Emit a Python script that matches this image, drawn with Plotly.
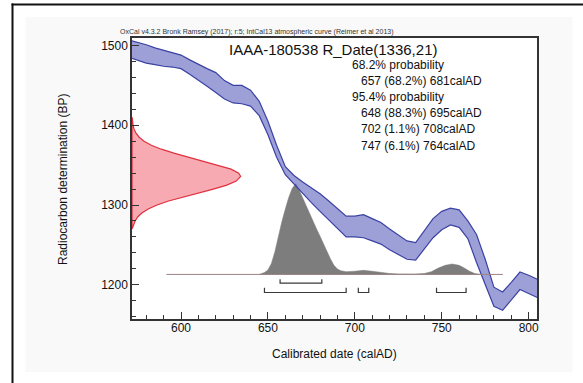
import plotly.graph_objects as go

# ---------------- data ----------------
# IntCal13 calibration band (calAD, upper BP edge, lower BP edge)
curve_year = [570, 575, 580, 585, 590, 595, 600, 605, 610, 615, 620, 625, 630, 635, 640,
              645, 650, 655, 660, 665, 670, 675, 680, 685, 690, 695, 700, 705, 710, 715,
              720, 725, 730, 735, 740, 745, 750, 755, 760, 765, 770, 775, 780, 785, 790,
              795, 800, 806]
curve_upper = [1507, 1504, 1501, 1497, 1494, 1491, 1488, 1482, 1476, 1471, 1466, 1456, 1450, 1450, 1444,
               1430, 1405, 1375, 1348, 1337, 1329, 1322, 1314, 1305, 1295, 1286, 1286, 1288, 1283, 1278,
               1270, 1262, 1255, 1253, 1268, 1283, 1292, 1296, 1294, 1280, 1263, 1232, 1197, 1191, 1203,
               1216, 1212, 1206]
curve_lower = [1485, 1481, 1478, 1476, 1474, 1473, 1471, 1464, 1457, 1449, 1441, 1433, 1428, 1427, 1424,
               1412, 1388, 1360, 1338, 1326, 1314, 1303, 1292, 1281, 1270, 1260, 1260, 1259, 1255, 1251,
               1244, 1238, 1232, 1231, 1245, 1259, 1269, 1275, 1272, 1258, 1228, 1200, 1173, 1168, 1181,
               1194, 1189, 1183]

# Radiocarbon date R_Date(1336,21): BP levels and relative probability
rdate_bp = [1410, 1405, 1400, 1395, 1390, 1385, 1380, 1375, 1370, 1365, 1360, 1355, 1350, 1345, 1340,
            1336, 1330, 1325, 1320, 1315, 1310, 1305, 1300, 1295, 1290, 1285, 1280, 1275, 1270]
rdate_rel = [0.002, 0.0045, 0.0096, 0.019, 0.037, 0.066, 0.111, 0.178, 0.270, 0.386, 0.520, 0.664, 0.801, 0.912, 0.982,
             1.0, 0.960, 0.872, 0.748, 0.607, 0.465, 0.337, 0.230, 0.149, 0.091, 0.052, 0.029, 0.015, 0.007]

# Calibrated date distribution (calAD, relative probability)
cal_year = [645, 648, 650, 652, 654, 656, 658, 660, 662, 664, 666, 668, 670, 672, 674, 676, 678, 680,
            682, 684, 686, 688, 690, 692, 695, 700, 705, 710, 715, 720, 725, 730, 735, 740, 744, 748,
            752, 756, 760, 763, 766, 769, 772]
cal_rel = [0.0, 0.02, 0.05, 0.12, 0.25, 0.42, 0.58, 0.72, 0.85, 0.95, 1.0, 0.93, 0.84, 0.76, 0.68, 0.59, 0.50, 0.42,
           0.33, 0.25, 0.17, 0.10, 0.06, 0.04, 0.03, 0.035, 0.045, 0.035, 0.02, 0.01, 0.005, 0.003, 0.004, 0.01, 0.03, 0.07,
           0.10, 0.115, 0.10, 0.07, 0.035, 0.01, 0.0]
cal_line_start, cal_line_end = 591.6, 785.2

# Ranges
range68 = [(657, 681)]
range95 = [(648, 695), (702, 708), (747, 764)]

title = "IAAA-180538 R_Date(1336,21)"
info_lines = [("68.2% probability", 0), ("657 (68.2%) 681calAD", 1), ("95.4% probability", 0),
              ("648 (88.3%) 695calAD", 1), ("702 (1.1%) 708calAD", 1), ("747 (6.1%) 764calAD", 1)]
credit = "OxCal v4.3.2 Bronk Ramsey (2017); r:5; IntCal13 atmospheric curve (Reimer et al 2013)"

x_ticks = [600, 650, 700, 750, 800]
y_ticks = [1200, 1300, 1400, 1500]

# ---------------- style / layout ----------------
W, H = 583, 383
L, T = 132, 38
PW, PH = 405, 281
R, B = W - L - PW, H - T - PH
XR = [571.8, 804.8]
YR = [1157.1, 1509.4]
FONT = "Liberation Sans, Arial, sans-serif"

BASE_BP = 1213      # baseline of calibrated distribution
CAL_SCALE = 113.7   # peak height in BP units
RED_SCALE = 62.5    # peak width in years
B68, T68 = 1202.0, 5.0
B95, T95 = 1190.3, 6.0


def px(s):
    return (s - L) / PW


def py(s):
    return (T + PH - s) / PH


fig = go.Figure()

# red radiocarbon date
rx = [XR[0] + r * RED_SCALE for r in rdate_rel] + [XR[0], XR[0]]
ry = list(rdate_bp) + [rdate_bp[-1], rdate_bp[0]]
fig.add_trace(go.Scatter(x=rx, y=ry, mode="lines", fill="toself",
                         fillcolor="rgba(240,85,100,0.5)",
                         line=dict(color="#e0303e", width=1.2), hoverinfo="skip"))

# grey calibrated distribution
gx = list(cal_year) + list(reversed(cal_year))
gy = [BASE_BP + r * CAL_SCALE for r in cal_rel] + [BASE_BP] * len(cal_year)
fig.add_trace(go.Scatter(x=gx, y=gy, mode="lines", fill="toself",
                         fillcolor="#7d7d7d", line=dict(color="#7d7d7d", width=0.5),
                         hoverinfo="skip"))

# calibration band
fig.add_trace(go.Scatter(x=curve_year, y=curve_lower, mode="lines",
                         line=dict(color="#3b41a3", width=1.2), hoverinfo="skip"))
fig.add_trace(go.Scatter(x=curve_year, y=curve_upper, mode="lines", fill="tonexty",
                         fillcolor="rgba(60,66,175,0.5)",
                         line=dict(color="#3b41a3", width=1.2), hoverinfo="skip"))

# baseline
fig.add_trace(go.Scatter(x=[cal_line_start, cal_line_end], y=[BASE_BP, BASE_BP], mode="lines",
                         line=dict(color="#9a8282", width=1), hoverinfo="skip"))

# brackets
def brackets(ranges, base, tick):
    bx, by = [], []
    for lo, hi in ranges:
        bx += [lo, lo, hi, hi, None]
        by += [base + tick, base, base, base + tick, None]
    return bx, by


for rngs, base, tick in [(range68, B68, T68), (range95, B95, T95)]:
    bx, by = brackets(rngs, base, tick)
    fig.add_trace(go.Scatter(x=bx, y=by, mode="lines",
                             line=dict(color="#3a3a3a", width=1.2), hoverinfo="skip"))

shapes = [
    dict(type="rect", xref="paper", yref="paper", x0=px(25.5), x1=px(572.5), y0=py(372), y1=py(17),
         fillcolor="#f9f9f9", line=dict(width=0), layer="below"),
    dict(type="rect", xref="paper", yref="paper", x0=0, x1=1, y0=0, y1=1,
         fillcolor="white", line=dict(width=0), layer="below"),
    dict(type="line", xref="paper", yref="paper", x0=px(12.5), x1=px(12.5), y0=py(3.5), y1=py(400),
         line=dict(color="#111111", width=2)),
    dict(type="line", xref="paper", yref="paper", x0=px(11.5), x1=px(600), y0=py(4.5), y1=py(4.5),
         line=dict(color="#111111", width=2)),
]

annotations = [
    dict(text=credit, x=px(118), y=py(32), xref="paper", yref="paper", xanchor="left", yanchor="middle",
         showarrow=False, font=dict(family=FONT, size=7, color="#333333")),
    dict(text=title, x=px(333), y=py(50), xref="paper", yref="paper", xanchor="center", yanchor="middle",
         showarrow=False, font=dict(family=FONT, size=15, color="#111111")),
    dict(text="Radiocarbon determination (BP)", x=px(63), y=py(180), xref="paper", yref="paper",
         xanchor="center", yanchor="middle", textangle=-90, showarrow=False,
         font=dict(family=FONT, size=12, color="#111111")),
    dict(text="Calibrated date (calAD)", x=px(334), y=py(354), xref="paper", yref="paper",
         xanchor="center", yanchor="middle", showarrow=False,
         font=dict(family=FONT, size=12, color="#111111")),
]
for i, (txt, indent) in enumerate(info_lines):
    annotations.append(dict(text=txt, x=px(350 + 9.3 * indent), y=py(65 + 16.1 * i),
                            xref="paper", yref="paper", xanchor="left", yanchor="middle",
                            showarrow=False, font=dict(family=FONT, size=12, color="#111111")))

fig.update_layout(
    width=W, height=H, margin=dict(l=L, r=R, t=T, b=B, pad=0, autoexpand=False),
    paper_bgcolor="white", plot_bgcolor="white", showlegend=False,
    shapes=shapes, annotations=annotations,
    xaxis=dict(range=XR, tickvals=x_ticks, ticks="inside", ticklen=7, tickwidth=1, tickcolor="#333",
               showgrid=False, zeroline=False, showline=True, mirror=True, linecolor="#333", linewidth=1.5,
               tickfont=dict(family=FONT, size=12, color="#111"), ticklabelstandoff=-3,
               minor=dict(dtick=10, tick0=0, ticks="inside", ticklen=4, tickcolor="#333", showgrid=False)),
    yaxis=dict(range=YR, tickvals=y_ticks, ticks="inside", ticklen=7, tickwidth=1, tickcolor="#333",
               showgrid=False, zeroline=False, showline=True, mirror=True, linecolor="#333", linewidth=1.5,
               tickfont=dict(family=FONT, size=12, color="#111"),
               minor=dict(dtick=20, tick0=0, ticks="inside", ticklen=4, tickcolor="#333", showgrid=False)),
)

fig.write_html("out.html", config={"displayModeBar": False},
               post_script="document.body.style.margin='0';")
